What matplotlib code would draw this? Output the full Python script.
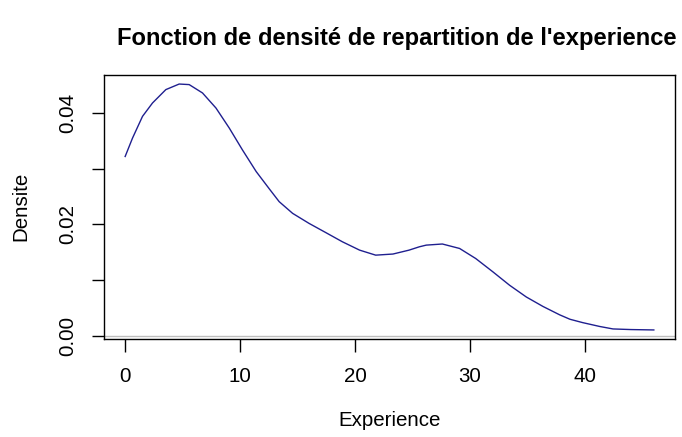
import matplotlib
matplotlib.use('Agg')
import matplotlib.pyplot as plt

# Density curve
experience = [0.0, 0.64, 1.51, 2.38, 3.54, 4.70, 5.57, 6.73, 7.9, 9.06, 10.2,
              11.4, 12.54, 13.4, 14.57, 16.0, 17.5, 18.9, 20.4, 21.8, 23.3,
              24.7, 25.6, 26.2, 27.6, 29.1, 30.5, 32.0, 33.45, 34.9, 36.35,
              37.8, 38.7, 39.8, 41.3, 42.45, 44.0, 46.0]
densite = [0.0322, 0.0355, 0.0394, 0.0418, 0.0442, 0.0452, 0.0451, 0.0436,
           0.0409, 0.0373, 0.0334, 0.0295, 0.0264, 0.0241, 0.0220, 0.0202,
           0.0185, 0.0169, 0.0154, 0.0145, 0.0147, 0.0154, 0.0160, 0.0163,
           0.0165, 0.0157, 0.0139, 0.0115, 0.0091, 0.0070, 0.0053, 0.0038,
           0.0030, 0.0024, 0.0017, 0.00126, 0.00115, 0.00108]

x_ticks = [0, 10, 20, 30, 40]
y_ticks = [0.00, 0.01, 0.02, 0.03, 0.04]
y_labels = ['0.00', '', '0.02', '', '0.04']

plt.rcParams['font.family'] = ['Liberation Sans', 'DejaVu Sans']

fig = plt.figure(figsize=(6.82, 4.37), dpi=100)
ax = fig.add_axes([0.1525, 0.2243, 0.8372, 0.6047])

ax.axhline(0, color='#bebebe', linewidth=1)
ax.plot(experience, densite, color='#1f1f8f', linewidth=1)

ax.set_xlim(-1.84, 47.84)
ax.set_ylim(-0.00054, 0.04687)

ax.set_xticks(x_ticks)
ax.set_xticklabels([str(t) for t in x_ticks])
ax.set_yticks(y_ticks)
ax.set_yticklabels(y_labels, rotation=90, va='center')

ax.tick_params(axis='both', direction='out', length=9, width=1,
               labelsize=14.8, color='black')
ax.tick_params(axis='x', pad=11)
ax.tick_params(axis='y', pad=10)
for s in ax.spines.values():
    s.set_linewidth(1)
    s.set_color('black')

ax.set_xlabel('Experience', fontsize=14.8, labelpad=18)
ax.set_ylabel('Densite', fontsize=14.8, labelpad=20)
fig.text(0.582, 0.913, "Fonction de densité de repartition de l'experience",
         ha='center', va='center', fontsize=17.1, fontweight='bold')

fig.savefig('out.png', dpi=100)
